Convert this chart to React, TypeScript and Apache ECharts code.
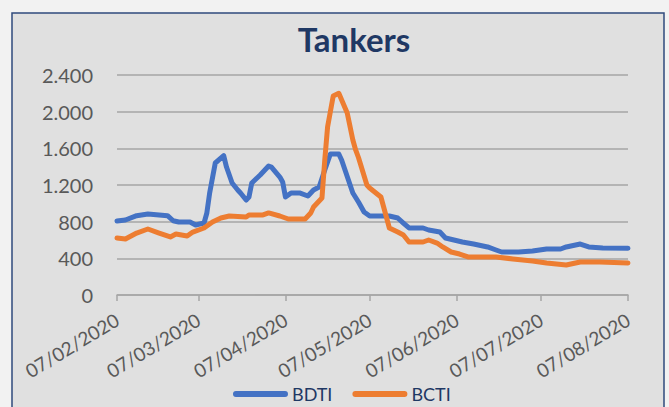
import React, { useEffect, useRef } from "react";
import * as echarts from "echarts";

const seriesNames = ["BDTI", "BCTI"];

const xTickLabels = ["07/02/2020", "07/03/2020", "07/04/2020", "07/05/2020", "07/06/2020", "07/07/2020", "07/08/2020"];
const yTickLabels = ["0", "400", "800", "1.200", "1.600", "2.000", "2.400"];

const bdtiData: [string, number][] = [
  ["2020-02-07", 807], ["2020-02-10", 818], ["2020-02-14", 865], ["2020-02-18", 884],
  ["2020-02-21", 876], ["2020-02-25", 865], ["2020-02-27", 810], ["2020-02-29", 796],
  ["2020-03-04", 796], ["2020-03-06", 764], ["2020-03-09", 785], ["2020-03-10", 895],
  ["2020-03-11", 1113], ["2020-03-13", 1440], ["2020-03-16", 1520], ["2020-03-17", 1396],
  ["2020-03-19", 1222], ["2020-03-21", 1146], ["2020-03-22", 1113], ["2020-03-24", 1036],
  ["2020-03-25", 1069], ["2020-03-26", 1222], ["2020-03-29", 1309], ["2020-04-01", 1407],
  ["2020-04-02", 1396], ["2020-04-05", 1287], ["2020-04-06", 1233], ["2020-04-07", 1069],
  ["2020-04-09", 1113], ["2020-04-12", 1113], ["2020-04-15", 1080], ["2020-04-17", 1146],
  ["2020-04-19", 1178], ["2020-04-21", 1364], ["2020-04-23", 1538], ["2020-04-26", 1538],
  ["2020-04-27", 1473], ["2020-05-01", 1113], ["2020-05-03", 1015], ["2020-05-05", 905],
  ["2020-05-07", 862], ["2020-05-14", 862], ["2020-05-17", 840], ["2020-05-19", 785],
  ["2020-05-21", 731], ["2020-05-26", 731], ["2020-05-28", 709], ["2020-06-01", 687],
  ["2020-06-03", 622], ["2020-06-06", 600], ["2020-06-09", 578], ["2020-06-13", 556],
  ["2020-06-18", 524], ["2020-06-21", 491], ["2020-06-23", 469], ["2020-06-29", 469],
  ["2020-07-04", 480], ["2020-07-09", 502], ["2020-07-14", 502], ["2020-07-16", 524],
  ["2020-07-21", 556], ["2020-07-24", 524], ["2020-07-29", 513], ["2020-08-07", 510],
];

const bctiData: [string, number][] = [
  ["2020-02-07", 622], ["2020-02-10", 611], ["2020-02-14", 676], ["2020-02-18", 720],
  ["2020-02-22", 676], ["2020-02-26", 633], ["2020-02-28", 665], ["2020-03-03", 644],
  ["2020-03-05", 687], ["2020-03-09", 731], ["2020-03-12", 796], ["2020-03-15", 840],
  ["2020-03-18", 862], ["2020-03-24", 851], ["2020-03-25", 873], ["2020-03-30", 873],
  ["2020-04-01", 895], ["2020-04-05", 862], ["2020-04-08", 829], ["2020-04-14", 829],
  ["2020-04-16", 895], ["2020-04-17", 960], ["2020-04-20", 1058], ["2020-04-21", 1473],
  ["2020-04-22", 1833], ["2020-04-24", 2170], ["2020-04-26", 2200], ["2020-04-29", 1986],
  ["2020-05-01", 1691], ["2020-05-02", 1582], ["2020-05-03", 1500], ["2020-05-06", 1200],
  ["2020-05-07", 1167], ["2020-05-11", 1069], ["2020-05-14", 731], ["2020-05-17", 687],
  ["2020-05-19", 655], ["2020-05-21", 578], ["2020-05-26", 578], ["2020-05-28", 600],
  ["2020-05-31", 567], ["2020-06-02", 524], ["2020-06-05", 469], ["2020-06-08", 447],
  ["2020-06-11", 415], ["2020-06-15", 415], ["2020-06-21", 415], ["2020-06-27", 393],
  ["2020-07-04", 371], ["2020-07-09", 349], ["2020-07-16", 327], ["2020-07-21", 360],
  ["2020-07-28", 360], ["2020-08-07", 349],
];

function buildCategories(): string[] {
  const out: string[] = [];
  const start = Date.UTC(2020, 1, 7);
  const end = Date.UTC(2020, 7, 7);
  for (let t = start; t <= end; t += 86400000) {
    const d = new Date(t);
    const mm = String(d.getUTCMonth() + 1).padStart(2, "0");
    const dd = String(d.getUTCDate()).padStart(2, "0");
    out.push(`${d.getUTCFullYear()}-${mm}-${dd}`);
  }
  return out;
}

const FONT = "Lato";

export default function App() {
  const ref = useRef<HTMLDivElement>(null);

  useEffect(() => {
    if (!ref.current) return;
    const chart = echarts.init(ref.current, undefined, { renderer: "svg" });
    const categories = buildCategories();
    const idx: Record<string, number> = {};
    categories.forEach((c, i) => (idx[c] = i));
    const tickIdx = categories.filter((c) => c.endsWith("-07"));
    const isTick = (_i: number, v: string) => v.endsWith("-07");

    chart.setOption({
      animation: false,
      backgroundColor: "#f2f2f2",
      graphic: [
        {
          type: "rect",
          z: -10,
          silent: true,
          shape: { x: 12, y: 13, width: 652, height: 420 },
          style: { fill: "#e0e0e0", stroke: "#2f4a7c", lineWidth: 1.5 },
        },
      ],
      title: {
        text: "Tankers",
        left: 349,
        top: 17,
        textAlign: "center",
        textStyle: { fontFamily: FONT, fontWeight: "bold", fontSize: 33, color: "#1f3864" },
      },
      legend: {
        data: seriesNames,
        left: 228,
        top: 380,
        icon: "path://M3,0 L53,0 A3,3 0 0 1 53,6 L3,6 A3,3 0 0 1 3,0 Z",
        itemWidth: 55,
        itemHeight: 6,
        itemGap: 20,
        textStyle: { fontFamily: FONT, fontSize: 18, color: "#1f3864", padding: [0, 0, 0, -1] },
      },
      grid: { left: 117, right: 41, top: 75, bottom: 112, containLabel: false },
      xAxis: {
        type: "category",
        data: categories,
        boundaryGap: false,
        axisLine: { show: true, lineStyle: { color: "#a6a6a6", width: 1.5 } },
        axisTick: { show: true, interval: isTick, length: 6, lineStyle: { color: "#a6a6a6", width: 1.5 } },
        splitLine: { show: false },
        axisLabel: {
          interval: isTick,
          rotate: 31,
          margin: 23,
          fontFamily: FONT,
          fontSize: 19,
          color: "#595959",
          formatter: (v: string) => xTickLabels[tickIdx.indexOf(v)] ?? "",
        },
      },
      yAxis: {
        type: "value",
        min: 0,
        max: 2400,
        interval: 400,
        axisLine: { show: false },
        axisTick: { show: false },
        splitLine: { show: true, lineStyle: { color: "#a6a6a6", width: 1.5 } },
        axisLabel: {
          margin: 24,
          fontFamily: FONT,
          fontSize: 20,
          color: "#595959",
          formatter: (v: number) => yTickLabels[Math.round(v / 400)] ?? "",
        },
      },
      series: [
        {
          name: seriesNames[0],
          type: "line",
          data: bdtiData.map(([d, v]) => [idx[d], v]),
          showSymbol: false,
          symbol: "none",
          lineStyle: { color: "#4472c4", width: 5, cap: "round", join: "round" },
          itemStyle: { color: "#4472c4" },
        },
        {
          name: seriesNames[1],
          type: "line",
          data: bctiData.map(([d, v]) => [idx[d], v]),
          showSymbol: false,
          symbol: "none",
          lineStyle: { color: "#ed7d31", width: 5, cap: "round", join: "round" },
          itemStyle: { color: "#ed7d31" },
        },
      ],
    });
    return () => chart.dispose();
  }, []);

  return (
    <div
      ref={ref}
      style={{ position: "absolute", left: 0, top: 0, width: 669, height: 407, overflow: "hidden" }}
    />
  );
}
